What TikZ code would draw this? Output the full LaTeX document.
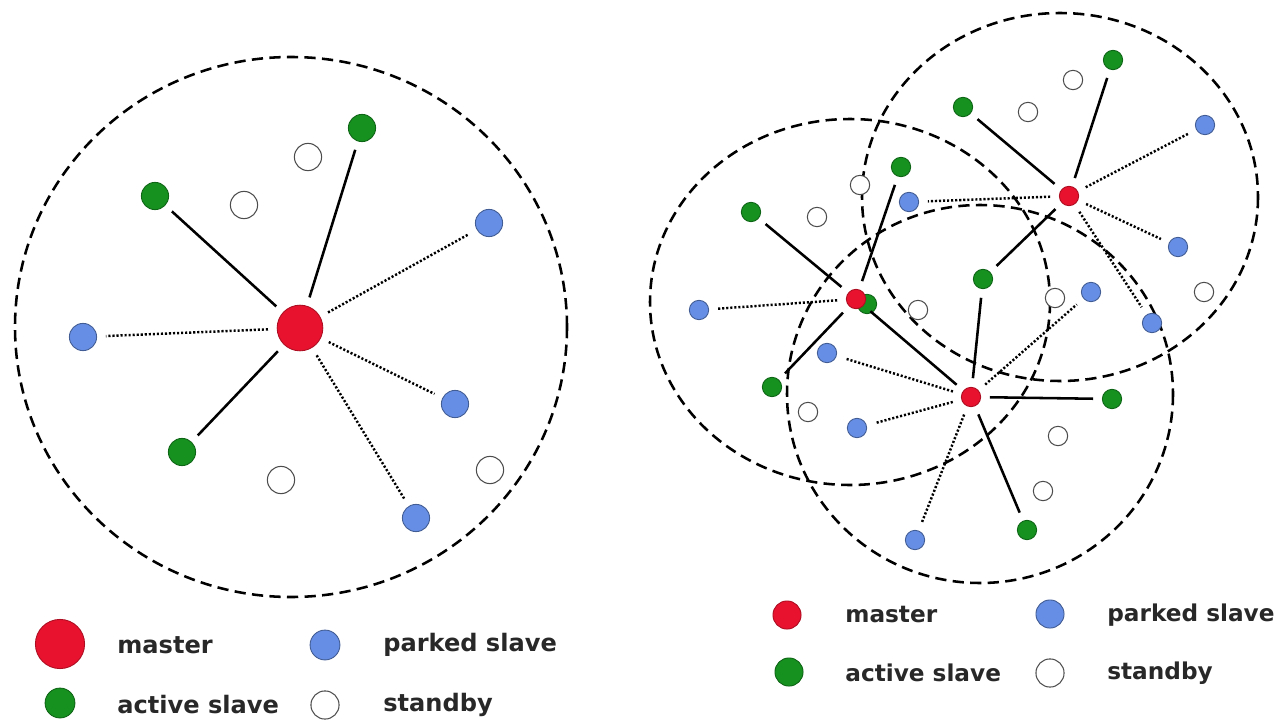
\documentclass[tikz,border=0pt]{standalone}
\usepackage{fontspec}
\setmainfont{DejaVu Sans}
\definecolor{masred}{RGB}{232,18,46}
\definecolor{actgreen}{RGB}{22,145,32}
\definecolor{parblue}{RGB}{102,142,228}
\definecolor{inkgray}{RGB}{40,40,40}
\tikzstyle{masternode} = [circle, draw=masred!75!black, fill=masred, line width=0.5pt, inner sep=0pt]
\tikzstyle{activenode} = [circle, draw=actgreen!70!black, fill=actgreen, line width=0.5pt, inner sep=0pt]
\tikzstyle{parkednode} = [circle, draw=parblue!65!black, fill=parblue, line width=0.5pt, inner sep=0pt]
\tikzstyle{standbynode} = [circle, draw=black!70, fill=white, line width=0.6pt, inner sep=0pt]
\tikzstyle{bigdot} = [minimum size=26pt]
\tikzstyle{middot} = [minimum size=15.5pt]
\tikzstyle{smalldot} = [minimum size=11pt]
\tikzstyle{rangering} = [line width=1.45pt, dash pattern=on 6.4pt off 3.6pt]
\tikzstyle{actlink} = [line width=1.45pt, shorten >=5pt, shorten <=5pt]
\tikzstyle{parklink} = [line width=1.4pt, dash pattern=on 1.2pt off 1.1pt, shorten >=5pt, shorten <=5pt]
\tikzstyle{legtext} = [anchor=west, inner sep=0pt, text=inkgray, font=\bfseries\fontsize{13.7}{16}\selectfont]

\begin{document}
\begin{tikzpicture}[x=0.02cm, y=-0.02cm]
\useasboundingbox (0,0) rectangle (1285,720);

% ranges
\draw [rangering] (291,327) ellipse (276 and 270);
\draw [rangering] (1060,197) ellipse (198 and 184);
\draw [rangering] (850,302) ellipse (200 and 183);
\draw [rangering] (980,394) ellipse (193 and 189);

% piconet
\node (mas1) [masternode, bigdot] at (300,328) {};
\node (act1a) [activenode, middot] at (362,128) {};
\node (act1b) [activenode, middot] at (155,196) {};
\node (act1c) [activenode, middot] at (182,452) {};
\node (par1a) [parkednode, middot] at (489,223) {};
\node (par1b) [parkednode, middot] at (83,337) {};
\node (par1c) [parkednode, middot] at (455,404) {};
\node (par1d) [parkednode, middot] at (416,518) {};
\node (sta1a) [standbynode, middot] at (308,157) {};
\node (sta1b) [standbynode, middot] at (244,205) {};
\node (sta1c) [standbynode, middot] at (281,480) {};
\node (sta1d) [standbynode, middot] at (490,470) {};

\draw [actlink] (mas1) -- (act1a);
\draw [actlink] (mas1) -- (act1b);
\draw [actlink] (mas1) -- (act1c);
\draw [parklink] (mas1) -- (par1a);
\draw [parklink] (mas1) -- (par1b);
\draw [parklink] (mas1) -- (par1c);
\draw [parklink] (mas1) -- (par1d);

% scatternet
\node (act2d) [activenode, smalldot] at (867,304) {};
\node (mas2) [masternode, smalldot] at (856,299) {};
\node (mas3) [masternode, smalldot] at (971,397) {};
\node (mas4) [masternode, smalldot] at (1069,196) {};
\node (act2a) [activenode, smalldot] at (751,212) {};
\node (act2b) [activenode, smalldot] at (901,167) {};
\node (act2c) [activenode, smalldot] at (772,387) {};
\node (act3a) [activenode, smalldot] at (983,279) {};
\node (act3b) [activenode, smalldot] at (1112,399) {};
\node (act3c) [activenode, smalldot] at (1027,530) {};
\node (act4a) [activenode, smalldot] at (963,107) {};
\node (act4b) [activenode, smalldot] at (1113,60) {};
\node (par2a) [parkednode, smalldot] at (699,310) {};
\node (par3a) [parkednode, smalldot] at (827,353) {};
\node (par3b) [parkednode, smalldot] at (857,428) {};
\node (par3c) [parkednode, smalldot] at (915,540) {};
\node (par3d) [parkednode, smalldot] at (1091,292) {};
\node (par4a) [parkednode, smalldot] at (909,202) {};
\node (par4b) [parkednode, smalldot] at (1205,125) {};
\node (par4c) [parkednode, smalldot] at (1178,247) {};
\node (par4d) [parkednode, smalldot] at (1152,323) {};
\node (sta2a) [standbynode, smalldot] at (1073,80) {};
\node (sta2b) [standbynode, smalldot] at (1028,112) {};
\node (sta2c) [standbynode, smalldot] at (860,185) {};
\node (sta2d) [standbynode, smalldot] at (817,217) {};
\node (sta2e) [standbynode, smalldot] at (918,310) {};
\node (sta2f) [standbynode, smalldot] at (1055,298) {};
\node (sta2g) [standbynode, smalldot] at (1204,292) {};
\node (sta2h) [standbynode, smalldot] at (808,412) {};
\node (sta2i) [standbynode, smalldot] at (1058,436) {};
\node (sta2j) [standbynode, smalldot] at (1043,491) {};

\draw [actlink] (mas2) -- (act2a);
\draw [actlink] (mas2) -- (act2b);
\draw [actlink] (mas2) -- (act2c);
\draw [actlink] (mas2) -- (mas3);
\draw [parklink] (mas2) -- (par2a);
\draw [actlink] (mas3) -- (act3a);
\draw [actlink] (mas3) -- (act3b);
\draw [actlink] (mas3) -- (act3c);
\draw [parklink] (mas3) -- (par3a);
\draw [parklink] (mas3) -- (par3b);
\draw [parklink] (mas3) -- (par3c);
\draw [parklink] (mas3) -- (par3d);
\draw [actlink] (mas4) -- (act3a);
\draw [actlink] (mas4) -- (act4a);
\draw [actlink] (mas4) -- (act4b);
\draw [parklink] (mas4) -- (par4a);
\draw [parklink] (mas4) -- (par4b);
\draw [parklink] (mas4) -- (par4c);
\draw [parklink] (mas4) -- (par4d);

% legends
\node (leg1m) [masternode, minimum size=28pt] at (60,644) {};
\node (leg1p) [parkednode, minimum size=17pt] at (325,645) {};
\node (leg1a) [activenode, minimum size=17pt] at (60,703) {};
\node (leg1s) [standbynode, minimum size=16pt] at (325,705) {};
\node (txt1m) [legtext] at (117,645) {master};
\node (txt1p) [legtext] at (383,645) {parked slave};
\node (txt1a) [legtext] at (117,705) {active slave};
\node (txt1s) [legtext] at (383,705) {standby};

\node (leg2m) [masternode, minimum size=16pt] at (787,615) {};
\node (leg2p) [parkednode, minimum size=16pt] at (1050,614) {};
\node (leg2a) [activenode, minimum size=16pt] at (789,672) {};
\node (leg2s) [standbynode, minimum size=16pt] at (1050,673) {};
\node (txt2m) [legtext, font=\bfseries\fontsize{13.2}{16}\selectfont] at (845,615) {master};
\node (txt2p) [legtext, font=\bfseries\fontsize{13.2}{16}\selectfont] at (1107,615) {parked slave};
\node (txt2a) [legtext, font=\bfseries\fontsize{13.2}{16}\selectfont] at (845,673) {active slave};
\node (txt2s) [legtext, font=\bfseries\fontsize{13.2}{16}\selectfont] at (1107,673) {standby};

\end{tikzpicture}
\end{document}
